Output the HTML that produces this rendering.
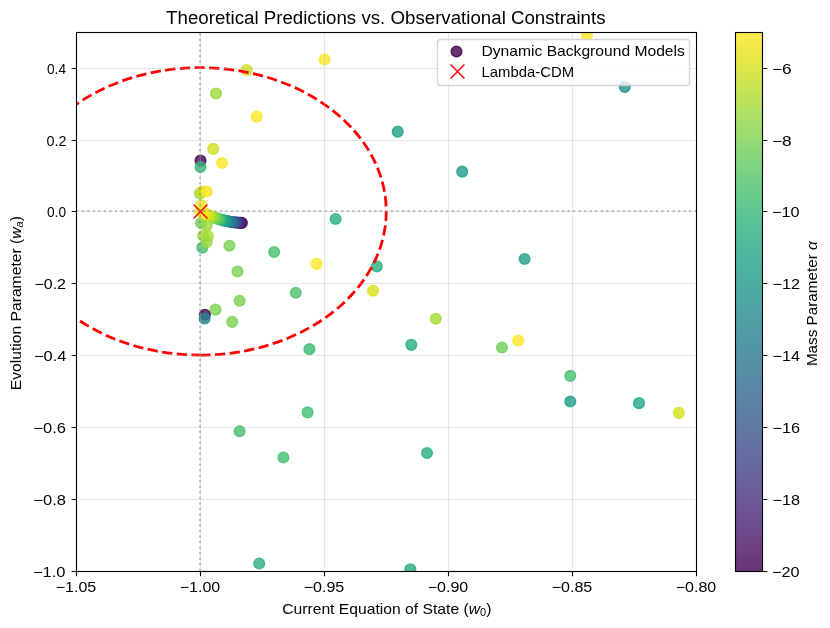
<!DOCTYPE html>
<html lang="en"><head><meta charset="utf-8"><title>Theoretical Predictions vs. Observational Constraints</title>
<style>html,body{margin:0;padding:0;background:#fff}body{width:830px;height:628px;overflow:hidden;font-family:"Liberation Sans",sans-serif}</style></head>
<body>
<svg width="830" height="628" viewBox="0 0 830 628" style="display:block">
<defs><clipPath id="ax"><rect x="76" y="32" width="621" height="540"/></clipPath>
<linearGradient id="cb" x1="0" y1="0" x2="0" y2="1"><stop offset="0.0000" stop-color="#feec50"/><stop offset="0.0208" stop-color="#f4eb4a"/><stop offset="0.0417" stop-color="#eae947"/><stop offset="0.0625" stop-color="#dfe847"/><stop offset="0.0833" stop-color="#d3e64d"/><stop offset="0.1042" stop-color="#c8e553"/><stop offset="0.1250" stop-color="#bde35a"/><stop offset="0.1458" stop-color="#b1e162"/><stop offset="0.1667" stop-color="#a6df69"/><stop offset="0.1875" stop-color="#9cdd6f"/><stop offset="0.2083" stop-color="#91da76"/><stop offset="0.2292" stop-color="#87d77c"/><stop offset="0.2500" stop-color="#7ed481"/><stop offset="0.2708" stop-color="#74d087"/><stop offset="0.2917" stop-color="#6ccd8b"/><stop offset="0.3125" stop-color="#65ca8f"/><stop offset="0.3333" stop-color="#5dc693"/><stop offset="0.3542" stop-color="#58c297"/><stop offset="0.3750" stop-color="#53be99"/><stop offset="0.3958" stop-color="#4fba9c"/><stop offset="0.4167" stop-color="#4db69e"/><stop offset="0.4375" stop-color="#4cb3a0"/><stop offset="0.4583" stop-color="#4baea1"/><stop offset="0.4792" stop-color="#4caaa2"/><stop offset="0.5000" stop-color="#4da7a3"/><stop offset="0.5208" stop-color="#4fa2a4"/><stop offset="0.5417" stop-color="#509ea4"/><stop offset="0.5625" stop-color="#519ba5"/><stop offset="0.5833" stop-color="#5396a5"/><stop offset="0.6042" stop-color="#5592a5"/><stop offset="0.6250" stop-color="#568fa5"/><stop offset="0.6458" stop-color="#588aa5"/><stop offset="0.6667" stop-color="#5a86a4"/><stop offset="0.6875" stop-color="#5c82a4"/><stop offset="0.7083" stop-color="#5e7da4"/><stop offset="0.7292" stop-color="#6079a3"/><stop offset="0.7500" stop-color="#6275a2"/><stop offset="0.7708" stop-color="#646fa1"/><stop offset="0.7917" stop-color="#666ba0"/><stop offset="0.8125" stop-color="#68669e"/><stop offset="0.8333" stop-color="#6a619b"/><stop offset="0.8542" stop-color="#6b5c99"/><stop offset="0.8750" stop-color="#6c5796"/><stop offset="0.8958" stop-color="#6d5191"/><stop offset="0.9167" stop-color="#6d4c8d"/><stop offset="0.9375" stop-color="#6d4688"/><stop offset="0.9583" stop-color="#6c4082"/><stop offset="0.9792" stop-color="#6b397c"/><stop offset="1.0000" stop-color="#693476"/></linearGradient></defs>
<rect width="830" height="628" fill="#ffffff"/>
<g clip-path="url(#ax)">
<g fill-opacity="0.8" stroke-opacity="0.8" stroke-width="1.389">
<circle cx="202.30" cy="247.65" r="5.379" fill="#48c16e" stroke="#48c16e"/>
<circle cx="246.70" cy="69.95" r="5.379" fill="#cae11f" stroke="#cae11f"/>
<circle cx="216.00" cy="93.45" r="5.379" fill="#9bd93c" stroke="#9bd93c"/>
<circle cx="256.80" cy="116.65" r="5.379" fill="#fde725" stroke="#fde725"/>
<circle cx="324.60" cy="59.55" r="5.379" fill="#fde725" stroke="#fde725"/>
<circle cx="587.00" cy="34.65" r="5.379" fill="#fde725" stroke="#fde725"/>
<circle cx="624.80" cy="86.85" r="5.379" fill="#21918c" stroke="#21918c"/>
<circle cx="397.70" cy="131.65" r="5.379" fill="#20a386" stroke="#20a386"/>
<circle cx="462.20" cy="171.65" r="5.379" fill="#1e9c89" stroke="#1e9c89"/>
<circle cx="213.20" cy="148.85" r="5.379" fill="#cae11f" stroke="#cae11f"/>
<circle cx="200.50" cy="160.55" r="5.379" fill="#440154" stroke="#440154"/>
<circle cx="200.50" cy="167.05" r="5.379" fill="#2fb47c" stroke="#2fb47c"/>
<circle cx="222.00" cy="162.95" r="5.379" fill="#fde725" stroke="#fde725"/>
<circle cx="200.10" cy="193.35" r="5.379" fill="#9bd93c" stroke="#9bd93c"/>
<circle cx="201.70" cy="191.75" r="5.379" fill="#d2e21b" stroke="#d2e21b"/>
<circle cx="206.90" cy="191.45" r="5.379" fill="#fde725" stroke="#fde725"/>
<circle cx="201.30" cy="205.25" r="5.379" fill="#fde725" stroke="#fde725"/>
<circle cx="201.10" cy="222.95" r="5.379" fill="#6ece58" stroke="#6ece58"/>
<circle cx="206.70" cy="225.35" r="5.379" fill="#9bd93c" stroke="#9bd93c"/>
<circle cx="203.10" cy="235.75" r="5.379" fill="#9bd93c" stroke="#9bd93c"/>
<circle cx="207.90" cy="236.15" r="5.379" fill="#a8db34" stroke="#a8db34"/>
<circle cx="206.70" cy="242.05" r="5.379" fill="#9bd93c" stroke="#9bd93c"/>
<circle cx="229.45" cy="245.75" r="5.379" fill="#7ad151" stroke="#7ad151"/>
<circle cx="274.10" cy="252.05" r="5.379" fill="#48c16e" stroke="#48c16e"/>
<circle cx="316.60" cy="263.85" r="5.379" fill="#fde725" stroke="#fde725"/>
<circle cx="237.50" cy="271.45" r="5.379" fill="#7ad151" stroke="#7ad151"/>
<circle cx="295.80" cy="292.75" r="5.379" fill="#4ec36b" stroke="#4ec36b"/>
<circle cx="239.60" cy="300.75" r="5.379" fill="#7ad151" stroke="#7ad151"/>
<circle cx="215.50" cy="309.65" r="5.379" fill="#7ad151" stroke="#7ad151"/>
<circle cx="204.90" cy="314.75" r="5.379" fill="#440154" stroke="#440154"/>
<circle cx="204.60" cy="318.45" r="5.379" fill="#24868e" stroke="#24868e"/>
<circle cx="232.20" cy="321.85" r="5.379" fill="#7ad151" stroke="#7ad151"/>
<circle cx="335.60" cy="218.95" r="5.379" fill="#29af7f" stroke="#29af7f"/>
<circle cx="376.80" cy="266.35" r="5.379" fill="#29af7f" stroke="#29af7f"/>
<circle cx="373.00" cy="290.75" r="5.379" fill="#d8e219" stroke="#d8e219"/>
<circle cx="435.80" cy="318.75" r="5.379" fill="#a2da37" stroke="#a2da37"/>
<circle cx="411.30" cy="344.85" r="5.379" fill="#26ad81" stroke="#26ad81"/>
<circle cx="524.60" cy="258.95" r="5.379" fill="#1fa188" stroke="#1fa188"/>
<circle cx="518.10" cy="340.55" r="5.379" fill="#fde725" stroke="#fde725"/>
<circle cx="502.00" cy="347.55" r="5.379" fill="#6ece58" stroke="#6ece58"/>
<circle cx="309.40" cy="349.15" r="5.379" fill="#3bbb75" stroke="#3bbb75"/>
<circle cx="570.30" cy="375.85" r="5.379" fill="#44bf70" stroke="#44bf70"/>
<circle cx="570.30" cy="401.45" r="5.379" fill="#1e9c89" stroke="#1e9c89"/>
<circle cx="639.00" cy="403.15" r="5.379" fill="#22a884" stroke="#22a884"/>
<circle cx="678.80" cy="412.85" r="5.379" fill="#d5e21a" stroke="#d5e21a"/>
<circle cx="307.60" cy="412.35" r="5.379" fill="#44bf70" stroke="#44bf70"/>
<circle cx="239.60" cy="431.25" r="5.379" fill="#44bf70" stroke="#44bf70"/>
<circle cx="283.40" cy="457.45" r="5.379" fill="#44bf70" stroke="#44bf70"/>
<circle cx="427.00" cy="453.05" r="5.379" fill="#29af7f" stroke="#29af7f"/>
<circle cx="259.20" cy="563.45" r="5.379" fill="#29af7f" stroke="#29af7f"/>
<circle cx="410.30" cy="569.35" r="5.379" fill="#26ad81" stroke="#26ad81"/>
<circle cx="241.90" cy="222.88" r="5.379" fill="#440154" stroke="#440154"/>
<circle cx="240.47" cy="222.84" r="5.379" fill="#481467" stroke="#481467"/>
<circle cx="239.03" cy="222.77" r="5.379" fill="#482576" stroke="#482576"/>
<circle cx="237.60" cy="222.67" r="5.379" fill="#463480" stroke="#463480"/>
<circle cx="236.16" cy="222.55" r="5.379" fill="#414487" stroke="#414487"/>
<circle cx="234.73" cy="222.41" r="5.379" fill="#3b518b" stroke="#3b518b"/>
<circle cx="233.29" cy="222.24" r="5.379" fill="#355e8d" stroke="#355e8d"/>
<circle cx="231.86" cy="222.04" r="5.379" fill="#30698e" stroke="#30698e"/>
<circle cx="230.42" cy="221.82" r="5.379" fill="#2b748e" stroke="#2b748e"/>
<circle cx="228.99" cy="221.57" r="5.379" fill="#277f8e" stroke="#277f8e"/>
<circle cx="227.56" cy="221.30" r="5.379" fill="#23898e" stroke="#23898e"/>
<circle cx="226.12" cy="221.01" r="5.379" fill="#20928c" stroke="#20928c"/>
<circle cx="224.69" cy="220.69" r="5.379" fill="#1e9d89" stroke="#1e9d89"/>
<circle cx="223.25" cy="220.34" r="5.379" fill="#21a685" stroke="#21a685"/>
<circle cx="221.82" cy="219.97" r="5.379" fill="#28ae80" stroke="#28ae80"/>
<circle cx="220.38" cy="219.57" r="5.379" fill="#35b779" stroke="#35b779"/>
<circle cx="218.95" cy="219.15" r="5.379" fill="#44bf70" stroke="#44bf70"/>
<circle cx="217.51" cy="218.71" r="5.379" fill="#54c568" stroke="#54c568"/>
<circle cx="216.08" cy="218.23" r="5.379" fill="#67cc5c" stroke="#67cc5c"/>
<circle cx="214.64" cy="217.74" r="5.379" fill="#7ad151" stroke="#7ad151"/>
<circle cx="213.21" cy="217.22" r="5.379" fill="#8bd646" stroke="#8bd646"/>
<circle cx="211.78" cy="216.67" r="5.379" fill="#9dd93b" stroke="#9dd93b"/>
<circle cx="210.34" cy="216.10" r="5.379" fill="#b0dd2f" stroke="#b0dd2f"/>
<circle cx="208.91" cy="215.50" r="5.379" fill="#c0df25" stroke="#c0df25"/>
<circle cx="207.47" cy="214.88" r="5.379" fill="#d0e11c" stroke="#d0e11c"/>
<circle cx="206.04" cy="214.23" r="5.379" fill="#dde318" stroke="#dde318"/>
<circle cx="204.60" cy="213.56" r="5.379" fill="#eae51a" stroke="#eae51a"/>
<circle cx="203.17" cy="212.86" r="5.379" fill="#f4e61e" stroke="#f4e61e"/>
<circle cx="201.73" cy="212.14" r="5.379" fill="#fbe723" stroke="#fbe723"/>
<circle cx="200.30" cy="211.39" r="5.379" fill="#fde725" stroke="#fde725"/>
</g>
<path d="M200.303 355.122 A186.000 143.733 0 0 0 200.303 67.656 A186.000 143.733 0 0 0 200.303 355.122" fill="none" stroke="#ff0000" stroke-width="2.778" stroke-dasharray="10.278 4.444"/>
<line x1="200.5" y1="32.5" x2="200.5" y2="571.5" stroke="#b0b0b0" stroke-opacity="0.3" stroke-width="1.111"/>
<line x1="324.5" y1="32.5" x2="324.5" y2="571.5" stroke="#b0b0b0" stroke-opacity="0.3" stroke-width="1.111"/>
<line x1="448.5" y1="32.5" x2="448.5" y2="571.5" stroke="#b0b0b0" stroke-opacity="0.3" stroke-width="1.111"/>
<line x1="572.5" y1="32.5" x2="572.5" y2="571.5" stroke="#b0b0b0" stroke-opacity="0.3" stroke-width="1.111"/>
<line x1="76.5" y1="68.5" x2="696.5" y2="68.5" stroke="#b0b0b0" stroke-opacity="0.3" stroke-width="1.111"/>
<line x1="76.5" y1="140.5" x2="696.5" y2="140.5" stroke="#b0b0b0" stroke-opacity="0.3" stroke-width="1.111"/>
<line x1="76.5" y1="211.5" x2="696.5" y2="211.5" stroke="#b0b0b0" stroke-opacity="0.3" stroke-width="1.111"/>
<line x1="76.5" y1="283.5" x2="696.5" y2="283.5" stroke="#b0b0b0" stroke-opacity="0.3" stroke-width="1.111"/>
<line x1="76.5" y1="355.5" x2="696.5" y2="355.5" stroke="#b0b0b0" stroke-opacity="0.3" stroke-width="1.111"/>
<line x1="76.5" y1="427.5" x2="696.5" y2="427.5" stroke="#b0b0b0" stroke-opacity="0.3" stroke-width="1.111"/>
<line x1="76.5" y1="499.5" x2="696.5" y2="499.5" stroke="#b0b0b0" stroke-opacity="0.3" stroke-width="1.111"/>
<path d="M193.56 204.56 L207.44 218.44 M193.56 218.44 L207.44 204.56" stroke="#ff0000" stroke-width="1.389" fill="none"/>
<line x1="76.303" y1="211.0" x2="696.303" y2="211.0" stroke="#808080" stroke-opacity="0.5" stroke-width="2.083" stroke-dasharray="2.083 3.4375"/>
<line x1="200.0" y1="570.722" x2="200.0" y2="31.722" stroke="#808080" stroke-opacity="0.5" stroke-width="2.083" stroke-dasharray="2.083 3.4375"/>
</g>
<rect x="76.5" y="32.5" width="620" height="539" fill="none" stroke="#000" stroke-width="1.111"/>
<path d="M76.5 571.5 v4.861 M200.5 571.5 v4.861 M324.5 571.5 v4.861 M448.5 571.5 v4.861 M572.5 571.5 v4.861 M696.5 571.5 v4.861 M76.5 68.5 h-4.861 M762.5 68.5 h4.861 M76.5 140.5 h-4.861 M762.5 140.5 h4.861 M76.5 211.5 h-4.861 M762.5 211.5 h4.861 M76.5 283.5 h-4.861 M762.5 283.5 h4.861 M76.5 355.5 h-4.861 M762.5 355.5 h4.861 M76.5 427.5 h-4.861 M762.5 427.5 h4.861 M76.5 499.5 h-4.861 M762.5 499.5 h4.861 M76.5 571.5 h-4.861 M762.5 571.5 h4.861" stroke="#000" stroke-width="1.111" fill="none"/>
<rect x="735.5" y="32.5" width="27" height="539" fill="url(#cb)" stroke="#000" stroke-width="1.111"/>
<rect x="437.5" y="39.5" width="252" height="46" rx="2.778" fill="#ffffff" fill-opacity="0.8" stroke="#cccccc" stroke-opacity="0.8" stroke-width="1.389"/>
<circle cx="456.5" cy="51.5" r="5.379" fill="#440154" stroke="#440154" fill-opacity="0.8" stroke-opacity="0.8" stroke-width="1.389"/>
<path d="M450.56 64.56 L464.44 78.44 M450.56 78.44 L464.44 64.56" stroke="#ff0000" stroke-width="1.389" fill="none"/>
<g font-family="Liberation Sans, sans-serif" fill="#000" opacity="0.999">
<text x="385.80" y="24.00" font-size="18.00" text-anchor="middle" textLength="439.41" lengthAdjust="spacingAndGlyphs">Theoretical Predictions vs. Observational Constraints</text>
<text x="386.80" y="614.20" font-size="14.40" text-anchor="middle" textLength="209.20" lengthAdjust="spacingAndGlyphs">Current Equation of State (<tspan font-style="italic">w</tspan><tspan dy="2.2" font-size="10.1">0</tspan><tspan dy="-2.2">)</tspan></text>
<text x="20.70" y="303.20" font-size="14.40" text-anchor="middle" textLength="174.18" lengthAdjust="spacingAndGlyphs" transform="rotate(-90 20.70 303.20)">Evolution Parameter (<tspan font-style="italic">w</tspan><tspan dy="2.2" font-size="10.1" font-style="italic">a</tspan><tspan dy="-2.2">)</tspan></text>
<text x="76.00" y="591.60" font-size="14.40" text-anchor="middle" textLength="40.58" lengthAdjust="spacingAndGlyphs">−1.05</text>
<text x="200.00" y="591.60" font-size="14.40" text-anchor="middle" textLength="40.58" lengthAdjust="spacingAndGlyphs">−1.00</text>
<text x="324.00" y="591.60" font-size="14.40" text-anchor="middle" textLength="40.58" lengthAdjust="spacingAndGlyphs">−0.95</text>
<text x="448.00" y="591.60" font-size="14.40" text-anchor="middle" textLength="40.58" lengthAdjust="spacingAndGlyphs">−0.90</text>
<text x="572.00" y="591.60" font-size="14.40" text-anchor="middle" textLength="40.58" lengthAdjust="spacingAndGlyphs">−0.85</text>
<text x="696.00" y="591.60" font-size="14.40" text-anchor="middle" textLength="40.58" lengthAdjust="spacingAndGlyphs">−0.80</text>
<text x="66.00" y="73.60" font-size="14.40" text-anchor="end" textLength="19.01" lengthAdjust="spacingAndGlyphs">0.4</text>
<text x="66.50" y="145.60" font-size="14.40" text-anchor="end" textLength="20.07" lengthAdjust="spacingAndGlyphs">0.2</text>
<text x="66.00" y="217.40" font-size="14.40" text-anchor="end" textLength="19.01" lengthAdjust="spacingAndGlyphs">0.0</text>
<text x="66.00" y="288.60" font-size="14.40" text-anchor="end" textLength="31.58" lengthAdjust="spacingAndGlyphs">−0.2</text>
<text x="66.50" y="360.60" font-size="14.40" text-anchor="end" textLength="32.55" lengthAdjust="spacingAndGlyphs">−0.4</text>
<text x="66.00" y="432.60" font-size="14.40" text-anchor="end" textLength="32.63" lengthAdjust="spacingAndGlyphs">−0.6</text>
<text x="66.00" y="504.60" font-size="14.40" text-anchor="end" textLength="32.63" lengthAdjust="spacingAndGlyphs">−0.8</text>
<text x="65.50" y="576.60" font-size="14.40" text-anchor="end" textLength="32.52" lengthAdjust="spacingAndGlyphs">−1.0</text>
<text x="772.00" y="73.60" font-size="14.40" textLength="19.77" lengthAdjust="spacingAndGlyphs">−6</text>
<text x="772.00" y="145.60" font-size="14.40" textLength="19.77" lengthAdjust="spacingAndGlyphs">−8</text>
<text x="772.00" y="216.60" font-size="14.40" textLength="27.52" lengthAdjust="spacingAndGlyphs">−10</text>
<text x="772.50" y="288.60" font-size="14.40" textLength="27.61" lengthAdjust="spacingAndGlyphs">−12</text>
<text x="772.50" y="360.60" font-size="14.40" textLength="27.47" lengthAdjust="spacingAndGlyphs">−14</text>
<text x="772.50" y="432.60" font-size="14.40" textLength="27.61" lengthAdjust="spacingAndGlyphs">−16</text>
<text x="772.50" y="504.60" font-size="14.40" textLength="27.61" lengthAdjust="spacingAndGlyphs">−18</text>
<text x="772.00" y="576.60" font-size="14.40" textLength="27.52" lengthAdjust="spacingAndGlyphs">−20</text>
<text x="817.00" y="303.70" font-size="14.40" text-anchor="middle" textLength="124.83" lengthAdjust="spacingAndGlyphs" transform="rotate(-90 817.00 303.70)">Mass Parameter <tspan font-style="italic">α</tspan></text>
<text x="481.50" y="56.20" font-size="14.40" textLength="203.36" lengthAdjust="spacingAndGlyphs">Dynamic Background Models</text>
<text x="481.50" y="77.20" font-size="14.40" textLength="92.67" lengthAdjust="spacingAndGlyphs">Lambda-CDM</text>
</g>
</svg>
</body></html>
